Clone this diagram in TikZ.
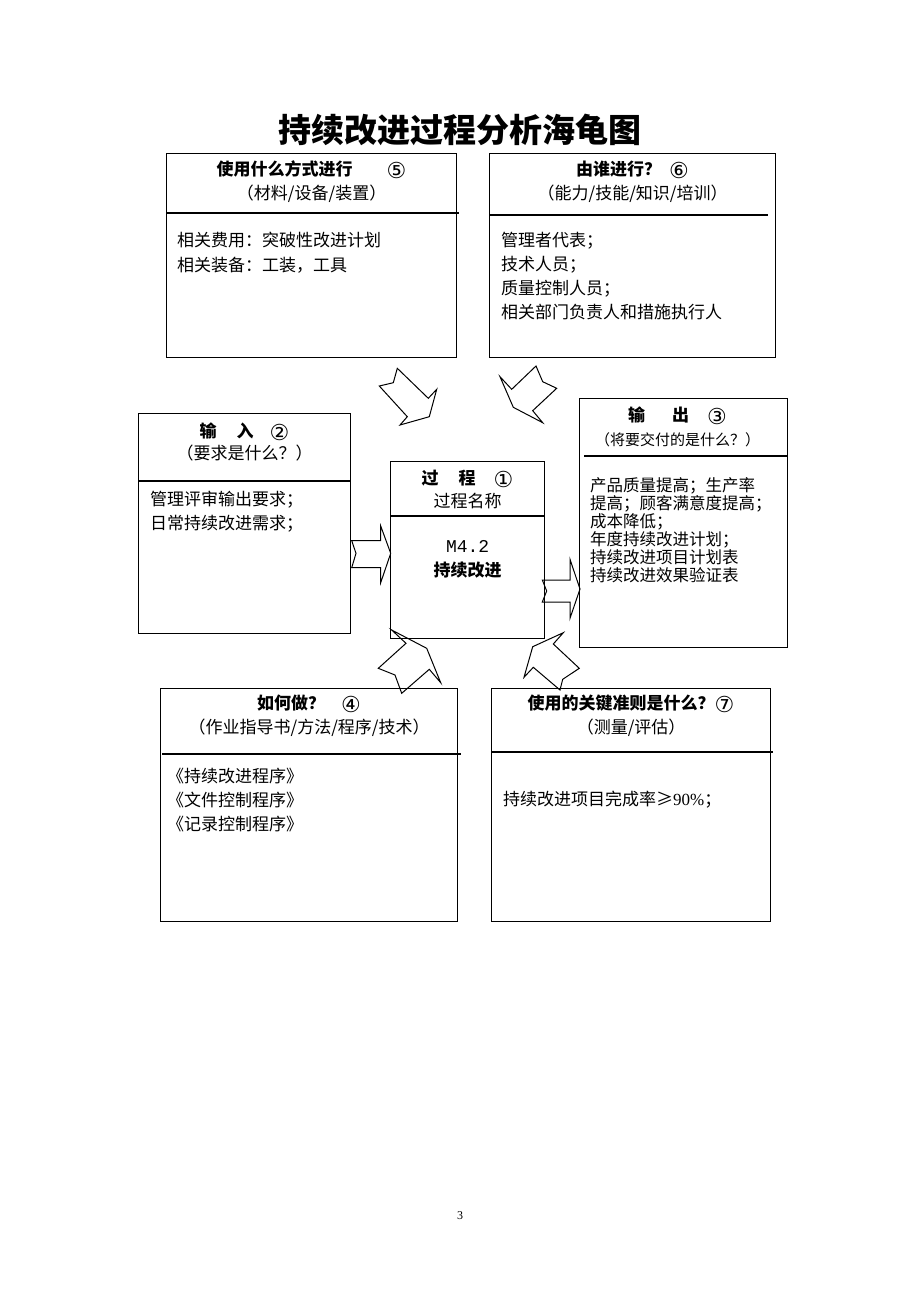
\documentclass[tikz,border=0pt]{standalone}
\usepackage{fontspec}
\setmainfont{Liberation Serif}
\setmonofont{Liberation Mono}
\newfontfamily\cjk{Noto Sans CJK SC}
\newfontfamily\circfont{DejaVu Sans}
\newcommand\cnum[1]{\smash{\raisebox{-2.5pt}{\circfont\mdseries\fontsize{22}{24}\selectfont #1}}}
\usetikzlibrary{positioning,calc}

\begin{document}
\begin{tikzpicture}[
    x=1pt, y=-1pt,
    panel/.style={draw, line width=1.2pt, anchor=north west, inner sep=0pt},
    head/.style={font=\cjk\fontsize{17}{24}\selectfont, align=center, inner sep=0pt},
    body/.style={font=\cjk\fontsize{17}{24}\selectfont, align=left, inner sep=0pt, anchor=north west},
    rule/.style={line width=1.2pt},
    blockarrow/.style={draw, line width=1pt, line join=miter},
  ]
  \useasboundingbox (0,0) rectangle (920,1302);

  % Title
  \node[font=\cjk\bfseries\fontsize{33}{36}\selectfont] (title) at (460,130) {持续改进过程分析海龟图};

  % Top row
  \node[panel, minimum width=290pt, minimum height=204pt] (tools) at (166,153) {};
  \node[head] (tools-h) at ($(tools.north)+(0,29)$) {{\bfseries 使用什么方式进行\hspace{34pt}\cnum{⑤}}\\（材料/设备/装置）};
  \draw[rule] ($(tools.north west)+(0,60)$) -- ($(tools.north east)+(2,60)$);
  \node[body, font=\cjk\fontsize{17}{25}\selectfont] (tools-b) at ($(tools.north west)+(11,79)$) {相关费用：突破性改进计划\\相关装备：工装，工具};

  \node[panel, minimum width=286pt, minimum height=204pt] (staff) at (489,153) {};
  \node[head] (staff-h) at ($(staff.north)+(0,29)$) {{\bfseries 由谁进行？\hspace{8pt}\cnum{⑥}}\\（能力/技能/知识/培训）};
  \draw[rule] ($(staff.north west)+(0,62)$) -- ($(staff.north east)+(-8,62)$);
  \node[body] (staff-b) at ($(staff.north west)+(12,79)$) {管理者代表；\\技术人员；\\质量控制人员；\\相关部门负责人和措施执行人};

  % Middle row
  \node[panel, minimum width=212pt, minimum height=220pt] (input) at (138,413) {};
  \node[head, font=\cjk\fontsize{17}{22}\selectfont] (input-h) at ($(input.north)+(0,29)$) {{\bfseries 输\hspace{20pt}入\hspace{16pt}\cnum{②}}\\（要求是什么？）};
  \draw[rule] ($(input.north west)+(0,68)$) -- ($(input.north east)+(0,68)$);
  \node[body] (input-b) at ($(input.north west)+(12,78)$) {管理评审输出要求；\\日常持续改进需求；};

  \node[panel, minimum width=154pt, minimum height=177pt] (proc) at (390,461) {};
  \node[head, font=\cjk\fontsize{17}{23}\selectfont] (proc-h) at ($(proc.north)+(0,28.5)$) {{\bfseries 过\hspace{20pt}程\hspace{18pt}\cnum{①}}\\过程名称};
  \draw[rule] ($(proc.north west)+(0,55)$) -- ($(proc.north east)+(0,55)$);
  \node[head] (proc-b) at ($(proc.north)+(0,98)$) {{\ttfamily\fontsize{18}{24}\selectfont M4.2}\\{\bfseries 持续改进}};

  \node[panel, minimum width=208pt, minimum height=249pt] (output) at (579,398) {};
  \node[head] (output-h) at ($(output.north)+(-6,29)$) {{\bfseries 输\hspace{27pt}出\hspace{18pt}\cnum{③}}\\{\fontsize{15}{24}\selectfont（将要交付的是什么？）}};
  \draw[rule] ($(output.north west)+(5,58)$) -- ($(output.north east)+(0,58)$);
  \node[body, font=\cjk\fontsize{16.5}{18}\selectfont] (output-b) at ($(output.north west)+(11,79)$) {产品质量提高；生产率\\提高；顾客满意度提高；\\成本降低；\\年度持续改进计划；\\持续改进项目计划表\\持续改进效果验证表};

  % Bottom row
  \node[panel, minimum width=297pt, minimum height=233pt] (method) at (160,688) {};
  \node[head] (method-h) at ($(method.north)+(0,28)$) {{\bfseries 如何做？\hspace{16pt}\cnum{④}}\\（作业指导书/方法/程序/技术）};
  \draw[rule] ($(method.north west)+(2,66)$) -- ($(method.north east)+(3,66)$);
  \node[body] (method-b) at ($(method.north west)+(7,80)$) {《持续改进程序》\\《文件控制程序》\\《记录控制程序》};

  \node[panel, minimum width=279pt, minimum height=233pt] (kpi) at (491,688) {};
  \node[head] (kpi-h) at ($(kpi.north)+(0,28)$) {{\bfseries 使用的关键准则是什么？\cnum{⑦}}\\（测量/评估）};
  \draw[rule] ($(kpi.north west)+(0,64)$) -- ($(kpi.north east)+(2,64)$);
  \node[body] (kpi-b) at ($(kpi.north west)+(12,103)$) {持续改进项目完成率≥{\rmfamily 90\%}；};

  % Block arrows towards the process
  \draw[blockarrow] (379.3,386) -- (393.3,382.7) -- (397.3,368.3) -- (428.3,398.3) -- (436.7,389.3)
    -- (429.3,416.7) -- (400,425) -- (407.3,416.7) -- cycle;
  \draw[blockarrow] (500,376.7) -- (511.7,389.3) -- (536,366) -- (542.7,381.7) -- (556.7,388.3)
    -- (532.7,410.7) -- (542.7,422.7) -- (513.3,407.3) -- cycle;
  \draw[blockarrow] (351.7,540.7) -- (380.7,540.7) -- (380.7,526) -- (390.7,553.3) -- (380.7,582.7)
    -- (380.7,567.7) -- (351.7,567.7) -- (356,553.3) -- cycle;
  \draw[blockarrow] (542.3,580) -- (570,580) -- (570,559.3) -- (580,589) -- (570,618.3)
    -- (570,602) -- (542.3,602) -- (546.7,591) -- cycle;
  \draw[blockarrow] (391.7,630) -- (406,643.3) -- (378.3,668.3) -- (395,675) -- (401.7,693.3)
    -- (429.3,669.3) -- (440.7,682.7) -- (426.7,648.3) -- cycle;
  \draw[blockarrow] (563.3,632.7) -- (553.3,644) -- (579.3,668.3) -- (562.7,679.3) -- (560,690)
    -- (533.3,667.3) -- (524,677.3) -- (532.7,646.7) -- cycle;

  % Page number
  \node[font=\fontsize{12}{14}\selectfont] (page) at (460,1216) {3};

\end{tikzpicture}
\end{document}
